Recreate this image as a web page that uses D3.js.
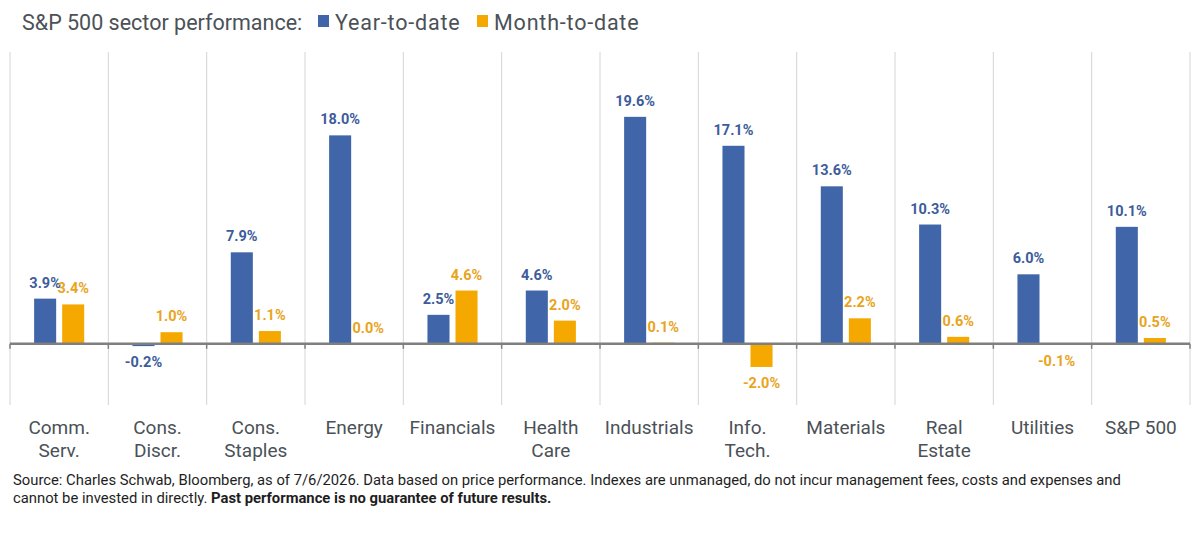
<!DOCTYPE html>
<html>
<head>
<meta charset="utf-8">
<script src="https://cdn.jsdelivr.net/npm/d3@7"></script>
<style>
  body { margin: 0; background: #fff; }
  svg { font-family: Roboto, "Noto Sans", sans-serif; }
</style>
</head>
<body>
<div id="chart"></div>
<script>
// sectors and values (percent)
const categories = ["Comm.\nServ.", "Cons.\nDiscr.", "Cons.\nStaples", "Energy", "Financials",
  "Health\nCare", "Industrials", "Info.\nTech.", "Materials", "Real\nEstate", "Utilities", "S&P 500"];
const ytdValues = [3.9, -0.2, 7.9, 18.0, 2.5, 4.6, 19.6, 17.1, 13.6, 10.3, 6.0, 10.1];
const mtdValues = [3.4, 1.0, 1.1, 0.0, 4.6, 2.0, 0.1, -2.0, 2.2, 0.6, -0.1, 0.5];
const seriesNames = ["Year-to-date", "Month-to-date"];

const width = 1200, height = 534;
const margin = {top: 52, right: 10, bottom: 130, left: 10};

const barColors = ["#4065a8", "#f5a800"];
const labelColors = ["#3d5c9b", "#e9a41c"];

const svg = d3.select("#chart").append("svg")
    .attr("width", width)
    .attr("height", height);

const x = d3.scaleBand()
    .domain(d3.range(categories.length))
    .range([margin.left, width - margin.right])
    .paddingInner(0).paddingOuter(0);

const x1 = d3.scaleBand()
    .domain([0, 1])
    .range([0, x.bandwidth()])
    .paddingInner(0.214)
    .paddingOuter(0.86);

const y = d3.scaleLinear()
    .domain([-5.2, 25.2])
    .range([height - margin.bottom, margin.top]);

// vertical grid lines at category borders
const borders = d3.range(categories.length + 1).map(i => i === categories.length ? width - margin.right : x(i));
svg.append("g")
    .selectAll("line")
    .data(borders)
    .join("line")
    .attr("x1", d => d).attr("x2", d => d)
    .attr("y1", y(25.2)).attr("y2", y(-5.2) + 1)
    .attr("stroke", "#d4d4d4")
    .attr("stroke-width", 1);

// bars
const rows = categories.map((c, i) => ({i: i, vals: [ytdValues[i], mtdValues[i]]}));

const groups = svg.append("g")
    .selectAll("g")
    .data(rows)
    .join("g")
    .attr("transform", d => `translate(${x(d.i)},0)`);

groups.selectAll("rect")
    .data(d => d.vals.map((v, s) => ({v: v, s: s})))
    .join("rect")
    .attr("x", d => x1(d.s))
    .attr("width", x1.bandwidth())
    .attr("y", d => y(Math.max(0, d.v)))
    .attr("height", d => Math.abs(y(d.v) - y(0)))
    .attr("fill", d => barColors[d.s]);

// value labels
groups.selectAll("text")
    .data(d => d.vals.map((v, s) => ({v: v, s: s})))
    .join("text")
    .attr("x", d => x1(d.s) + x1.bandwidth() / 2)
    .attr("y", d => d.v < 0 ? y(d.v) + 21 : y(d.v) - 11)
    .attr("text-anchor", "middle")
    .attr("font-size", 14.5)
    .attr("font-weight", "bold")
    .attr("fill", d => labelColors[d.s])
    .text(d => d.v.toFixed(1) + "%");

// zero axis with ticks
svg.append("g")
    .selectAll("line")
    .data(borders)
    .join("line")
    .attr("x1", d => d).attr("x2", d => d)
    .attr("y1", y(0)).attr("y2", y(0) + 5)
    .attr("stroke", "#7f7f7f")
    .attr("stroke-width", 1.5);

svg.append("line")
    .attr("x1", margin.left).attr("x2", width - margin.right)
    .attr("y1", y(0)).attr("y2", y(0))
    .attr("stroke", "#7f7f7f")
    .attr("stroke-width", 2.5);

// category labels
const catText = svg.append("g")
    .selectAll("text")
    .data(categories)
    .join("text")
    .attr("x", (d, i) => x(i) + x.bandwidth() / 2)
    .attr("y", 434)
    .attr("text-anchor", "middle")
    .attr("font-size", 19)
    .attr("fill", "#4b5157");

catText.selectAll("tspan")
    .data(d => d.split("\n"))
    .join("tspan")
    .attr("x", function () { return d3.select(this.parentNode).attr("x"); })
    .attr("dy", (d, i) => i === 0 ? 0 : 23)
    .text(d => d);

// title + legend
svg.append("text")
    .attr("x", 22)
    .attr("y", 30)
    .attr("font-size", 21.5)
    .attr("fill", "#4b5157")
    .text("S&P 500 sector performance:");

const legendX = [318, 477];
seriesNames.forEach((name, s) => {
  svg.append("rect")
      .attr("x", legendX[s]).attr("y", 15)
      .attr("width", 11).attr("height", 12)
      .attr("fill", barColors[s]);
  svg.append("text")
      .attr("x", legendX[s] + 17)
      .attr("y", 30)
      .attr("font-size", 21.5)
      .attr("letter-spacing", 0.8)
      .attr("fill", "#4b5157")
      .text(name);
});

// source note
const note = svg.append("g")
    .attr("font-size", 14.8)
    .attr("fill", "#1e1e1e");

note.append("text")
    .attr("x", 13).attr("y", 485)
    .text("Source: Charles Schwab, Bloomberg, as of 7/6/2026. Data based on price performance. Indexes are unmanaged, do not incur management fees, costs and expenses and");

const line2 = note.append("text")
    .attr("x", 13).attr("y", 503);
line2.append("tspan").text("cannot be invested in directly. ");
line2.append("tspan").attr("font-weight", "bold").text("Past performance is no guarantee of future results.");
</script>
</body>
</html>
